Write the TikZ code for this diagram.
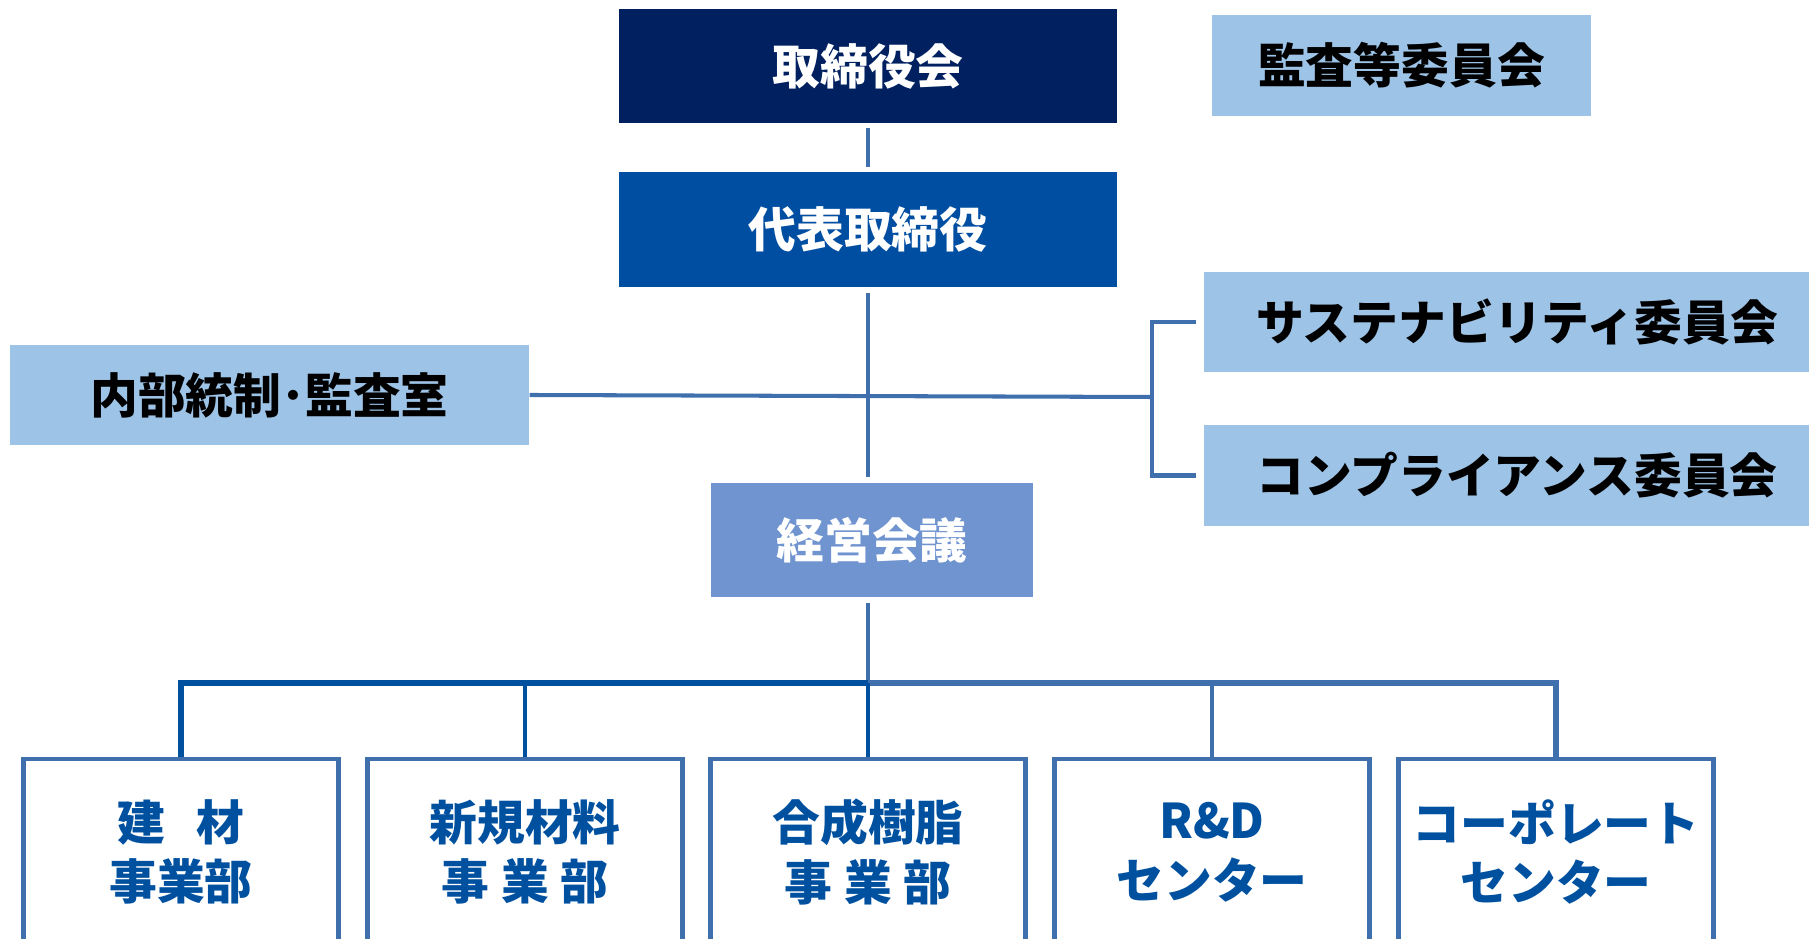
\documentclass[tikz,border=0pt]{standalone}
\usepackage{fontspec}
\newfontfamily\jp{Noto Sans CJK JP}
\definecolor{navy}{HTML}{002060}
\definecolor{corpblue}{HTML}{004EA2}
\definecolor{midblue}{HTML}{7094D0}
\definecolor{paleblue}{HTML}{9DC3E6}
\definecolor{linkblue}{HTML}{3F6FAD}
\definecolor{deepblue}{HTML}{0050A0}
\begin{document}
\begin{tikzpicture}[every node/.style={font=\jp\bfseries\fontsize{13.6}{17}\selectfont,inner sep=0pt},
    headbox/.style={fill=#1,text=white,minimum width=4.98cm,minimum height=1.14cm},
    sidebox/.style={fill=paleblue,text=black,minimum height=1cm},
    unitbox/.style={draw=linkblue,line width=1.2pt,text=deepblue,align=center,minimum width=3.15cm,minimum height=1.86cm},
    link/.style={draw=linkblue,line width=1.15pt}]
    \useasboundingbox (0,0) rectangle (18.09,-9.39);
    \clip (0,0) rectangle (18.09,-9.39);
    \node[headbox=navy] (board) at (8.68,-.66) {取締役会};
    \node[sidebox,minimum width=3.79cm,minimum height=1.01cm] (audit) at (14.015,-.655) {監査等委員会};
    \node[headbox=corpblue,minimum height=1.15cm] (ceo) at (8.68,-2.295) {代表取締役};
    \node[sidebox,minimum width=5.19cm] (internal) at (2.695,-3.95) {内部統制･監査室};
    \node[sidebox,minimum width=6.26cm] (sustain) at (15.17,-3.22) {サステナビリティ委員会};
    \node[sidebox,minimum width=6.26cm,minimum height=1.01cm] (comply) at (15.17,-4.755) {コンプライアンス委員会};
    \node[fill=midblue,text=white,minimum width=3.22cm,minimum height=1.14cm] (council) at (8.72,-5.40) {経営会議};
    % business units
    \node[unitbox] (kenzai) at (1.81,-8.52) {建\hspace{.67em}材\\事業部};
    \node[unitbox] (shinki) at (5.25,-8.52) {新規材料\\事\hspace{.25em}業\hspace{.25em}部};
    \node[unitbox] (gosei) at (8.68,-8.52) {合成樹脂\\事\hspace{.25em}業\hspace{.25em}部};
    \node[unitbox] (rd) at (12.12,-8.52) {R\&D\\センター};
    \node[unitbox] (corp) at (15.56,-8.52) {コーポレート\\センター};
    % connectors
    \draw[link,shorten <=.4mm,shorten >=.4mm] (board) -- (ceo);
    \draw[link,shorten <=.5mm,shorten >=.5mm] (ceo.south) -- (ceo.south |- council.north);
    \coordinate (fork) at (11.52,-3.97);
    \draw[link] (internal.east) -- (fork);
    \draw[link] ([xshift=-.7mm]sustain.west) -| (fork) |- ([xshift=-.7mm]comply.west);
    \coordinate (bus) at (8.68,-6.83);
    \draw[link,shorten <=.5mm] (council.south -| bus) -- (bus);
    \draw[deepblue,line width=1.5pt] (kenzai.north) |- (bus);
    \draw[linkblue,line width=1.5pt] (corp.north) |- (bus);
    \foreach \u in {shinki,gosei}
        \draw[deepblue,line width=1.2pt] (\u.north) -- (\u.north |- bus);
    \draw[link] (rd.north) -- (rd.north |- bus);
\end{tikzpicture}
\end{document}
